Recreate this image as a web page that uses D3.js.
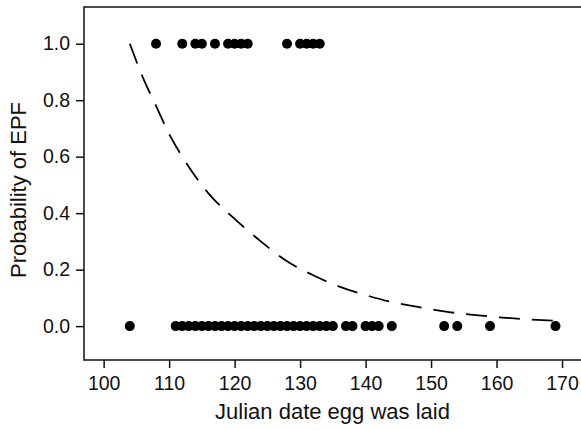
<!DOCTYPE html>
<html>
<head>
<meta charset="utf-8">
<script src="https://cdn.jsdelivr.net/npm/d3@7"></script>
<style>
  body { margin: 0; background: #fff; }
  svg { display: block; font-family: "Liberation Sans", Arial, sans-serif; }
</style>
</head>
<body>
<div id="chart"></div>
<script>
// observed EPF outcomes (Julian day the egg was laid)
const epfYes = [108, 112, 114, 115, 117, 119, 120, 121, 122, 128, 130, 131, 132, 133];
const epfNo = [104, 111, 112, 113, 114, 115, 116, 117, 118, 119, 120, 121, 122, 123,
    124, 125, 126, 127, 128, 129, 130, 131, 132, 133, 134, 135, 137, 138,
    140, 141, 142, 144, 152, 154, 159, 169];

// fitted curve
const curveDays = [104, 106, 108, 110, 112, 116, 120, 124, 128, 132, 136, 140, 144, 148, 152, 156, 160, 164, 169];
const curveProb = [1.0, 0.88, 0.78, 0.68, 0.60, 0.47, 0.38, 0.30, 0.23, 0.18, 0.14, 0.11, 0.085, 0.068, 0.052, 0.041, 0.032, 0.025, 0.019];

const xTicks = [100, 110, 120, 130, 140, 150, 160, 170];
const yTicks = [0, 0.2, 0.4, 0.6, 0.8, 1.0];

const width = 581, height = 430;
const margin = {top: 7, right: -2, bottom: 70, left: 84};

const svg = d3.select('#chart')
    .append('svg')
    .attr('width', width)
    .attr('height', height);

const x = d3.scaleLinear()
    .domain([97, 173.2])
    .range([margin.left, width - margin.right]);

const y = d3.scaleLinear()
    .domain([-0.12, 1.13])
    .range([height - margin.bottom, margin.top]);

// box
svg.append('rect')
    .attr('x', margin.left)
    .attr('y', margin.top)
    .attr('width', width - margin.right - margin.left)
    .attr('height', height - margin.bottom - margin.top)
    .attr('fill', 'none')
    .attr('stroke', '#111')
    .attr('stroke-width', 1.5);

// x axis
const xAxis = svg.append('g')
    .attr('transform', `translate(0, ${height - margin.bottom})`)
    .call(d3.axisBottom(x).tickValues(xTicks).tickSize(8).tickPadding(8).tickFormat(d3.format('d')));
xAxis.select('.domain').remove();
xAxis.selectAll('line').attr('stroke', '#111').attr('stroke-width', 1.5);
xAxis.selectAll('text').style('font-size', '19.5px').attr('fill', '#111');

// y axis
const yAxis = svg.append('g')
    .attr('transform', `translate(${margin.left}, 0)`)
    .call(d3.axisLeft(y).tickValues(yTicks).tickSize(8).tickPadding(6).tickFormat(d3.format('.1f')));
yAxis.select('.domain').remove();
yAxis.selectAll('line').attr('stroke', '#111').attr('stroke-width', 1.5);
yAxis.selectAll('text').style('font-size', '19.5px').attr('fill', '#111');

// axis titles
svg.append('text')
    .attr('x', (margin.left + width) / 2)
    .attr('y', 419)
    .attr('text-anchor', 'middle')
    .style('font-size', '22px')
    .attr('fill', '#111')
    .text('Julian date egg was laid');

svg.append('text')
    .attr('transform', `translate(26, 190) rotate(-90)`)
    .attr('text-anchor', 'middle')
    .style('font-size', '22px')
    .attr('fill', '#111')
    .text('Probability of EPF');

// fitted curve
const line = d3.line()
    .x(d => x(d[0]))
    .y(d => y(d[1]))
    .curve(d3.curveMonotoneX);

svg.append('path')
    .datum(d3.zip(curveDays, curveProb))
    .attr('d', line)
    .attr('fill', 'none')
    .attr('stroke', '#000')
    .attr('stroke-width', 1.8)
    .attr('stroke-dasharray', '21,12');

// points
const pts = epfYes.map(d => [d, 1]).concat(epfNo.map(d => [d, 0]));
svg.append('g')
    .selectAll('circle')
    .data(pts)
    .enter().append('circle')
    .attr('cx', d => x(d[0]))
    .attr('cy', d => y(d[1]))
    .attr('r', 5)
    .attr('fill', '#000');
</script>
</body>
</html>
